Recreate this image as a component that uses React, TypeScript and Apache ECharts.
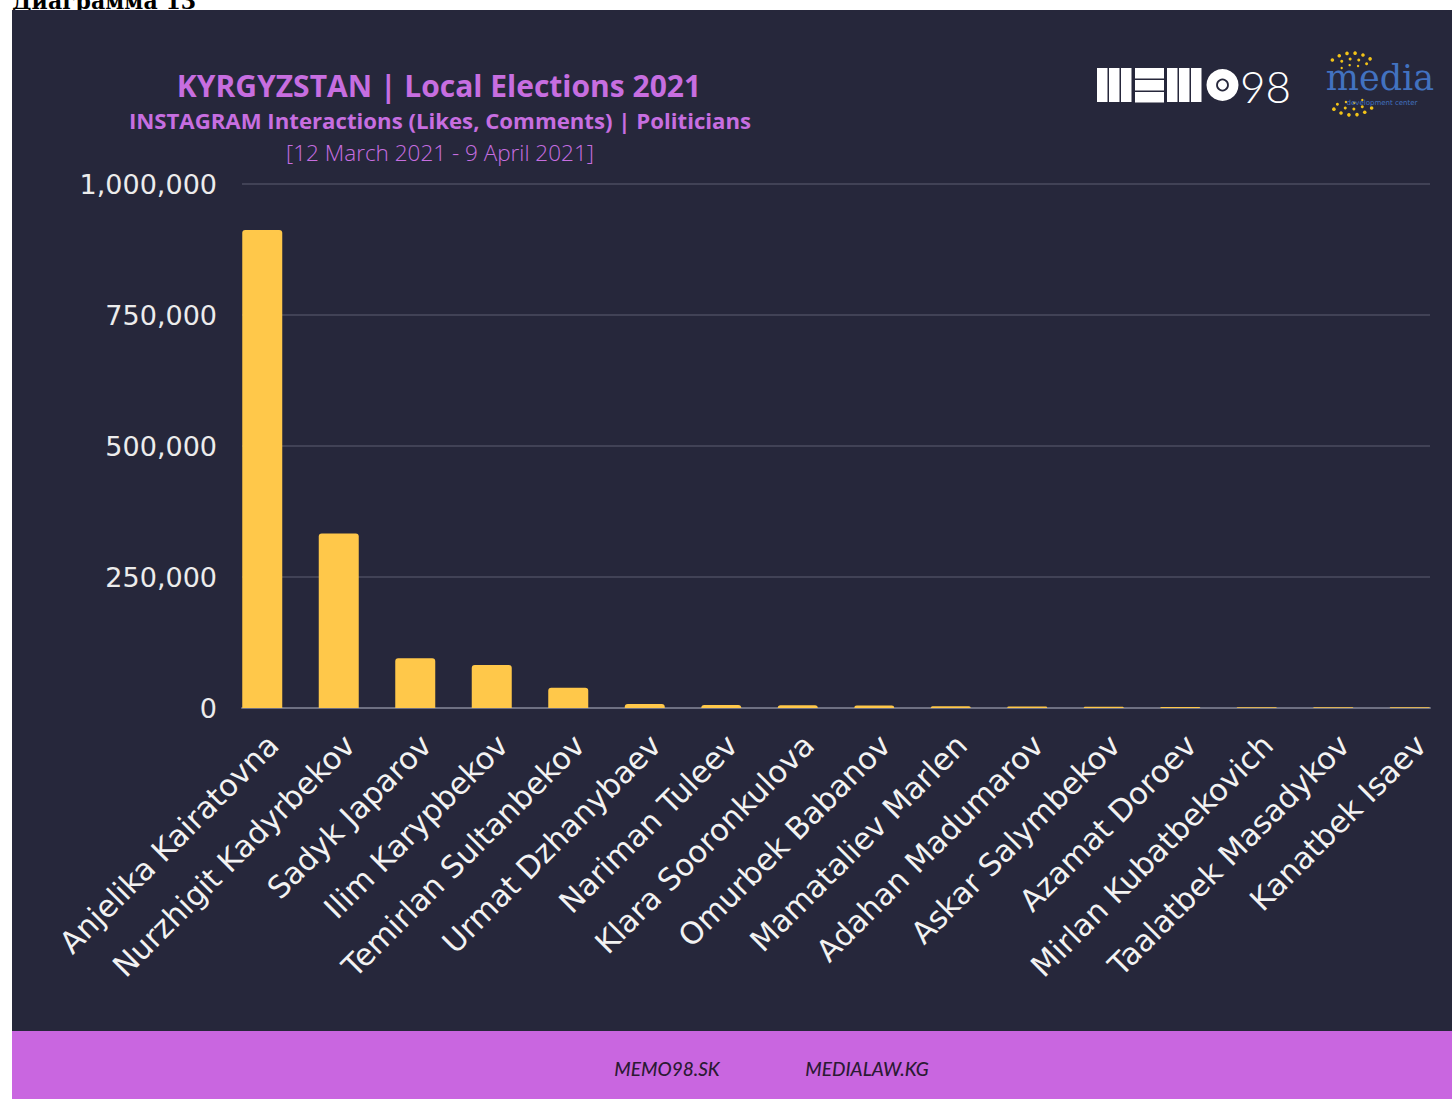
import React, { useEffect, useRef } from "react";
import * as echarts from "echarts";

const politicians: string[] = [
  "Anjelika Kairatovna",
  "Nurzhigit Kadyrbekov",
  "Sadyk Japarov",
  "Ilim Karypbekov",
  "Temirlan Sultanbekov",
  "Urmat Dzhanybaev",
  "Nariman Tuleev",
  "Klara Sooronkulova",
  "Omurbek Babanov",
  "Mamataliev Marlen",
  "Adahan Madumarov",
  "Askar Salymbekov",
  "Azamat Doroev",
  "Mirlan Kubatbekovich",
  "Taalatbek Masadykov",
  "Kanatbek Isaev",
];

const interactions: number[] = [
  912000, 333000, 95000, 82000, 38700, 7600, 5700, 5200, 4600, 3300, 2700,
  2300, 2000, 1600, 1400, 1200,
];

const yTicks: number[] = [0, 250000, 500000, 750000, 1000000];

const titleText = "KYRGYZSTAN | Local Elections 2021";
const subtitleText = "INSTAGRAM Interactions (Likes, Comments) | Politicians";
const dateText = "[12 March 2021 - 9 April 2021]";
const footerLinks: string[] = ["MEMO98.SK", "MEDIALAW.KG"];

const BG = "#26273b";
const PURPLE = "#c966e0";
const TITLE = "#c76ee0";
const BAR = "#ffc84a";

function fmt(v: number): string {
  return v.toLocaleString("en-US");
}

function mediaDots(): any[] {
  const dots: any[] = [];
  const cx = 1352;
  const cy = 84;
  const rings = [
    { r: 31, n: 24, s: 1.8 },
    { r: 25, n: 18, s: 1.5 },
    { r: 19, n: 14, s: 1.2 },
  ];
  rings.forEach((ring) => {
    for (let i = 0; i < ring.n; i++) {
      const a = (i / ring.n) * Math.PI * 2 + 0.1;
      const x = cx + Math.cos(a) * ring.r;
      const y = cy + Math.sin(a) * ring.r;
      if (Math.abs(Math.sin(a)) < 0.72) continue;
      dots.push({
        type: "circle",
        shape: { cx: x, cy: y, r: ring.s },
        style: { fill: "#f2c318" },
        z: 5,
      });
    }
  });
  return dots;
}

export default function App() {
  const ref = useRef<HTMLDivElement>(null);

  useEffect(() => {
    if (!ref.current) return;
    const chart = echarts.init(ref.current, undefined, { renderer: "svg" });

    const memoBars: any[] = [];
    for (let i = 0; i < 3; i++) {
      memoBars.push({ type: "rect", shape: { x: 1097 + i * 12, y: 68, width: 10.5, height: 34 }, style: { fill: "#ffffff" }, z: 5 });
    }
    for (let i = 0; i < 3; i++) {
      memoBars.push({ type: "rect", shape: { x: 1135, y: 68 + i * 12, width: 29, height: 10.5 }, style: { fill: "#ffffff" }, z: 5 });
    }
    for (let i = 0; i < 3; i++) {
      memoBars.push({ type: "rect", shape: { x: 1167 + i * 12, y: 68, width: 10.5, height: 34 }, style: { fill: "#ffffff" }, z: 5 });
    }

    const option: any = {
      animation: false,
      backgroundColor: "#ffffff",
      graphic: {
        z: -10,
        elements: [
          {
            type: "text",
            left: 12,
            top: -10,
            z: 0,
            style: {
              text: "Диаграмма 13",
              font: "bold 22px 'DejaVu Serif'",
              fill: "#000000",
            },
          },
          {
            type: "rect",
            shape: { x: 12, y: 10, width: 1440, height: 1022 },
            style: { fill: BG },
            z: 1,
            silent: true,
          },
          {
            type: "rect",
            shape: { x: 12, y: 1031, width: 1440, height: 68 },
            style: { fill: PURPLE },
            z: 1,
            silent: true,
          },
          {
            type: "text",
            x: 439,
            y: 85,
            z: 5,
            style: {
              text: titleText,
              font: "bold 30px 'Open Sans'",
              fill: TITLE,
              align: "center",
              verticalAlign: "middle",
            },
          },
          {
            type: "text",
            x: 440,
            y: 120,
            z: 5,
            style: {
              text: subtitleText,
              font: "bold 22.2px 'Open Sans'",
              fill: TITLE,
              align: "center",
              verticalAlign: "middle",
            },
          },
          {
            type: "text",
            x: 440,
            y: 152,
            z: 5,
            style: {
              text: dateText,
              font: "300 22.5px 'Open Sans'",
              fill: TITLE,
              align: "center",
              verticalAlign: "middle",
            },
          },
          ...memoBars,
          {
            type: "circle",
            shape: { cx: 1222.5, cy: 85, r: 16 },
            style: { fill: "#ffffff" },
            z: 5,
          },
          {
            type: "circle",
            shape: { cx: 1222.5, cy: 85, r: 5.5 },
            style: { fill: "#ffffff", stroke: BG, lineWidth: 1.8 },
            z: 6,
          },
          {
            type: "text",
            x: 1240,
            y: 86,
            z: 5,
            style: {
              text: "98",
              font: "300 44px Lato",
              fill: "#ffffff",
              align: "left",
              verticalAlign: "middle",
            },
          },
          ...mediaDots(),
          {
            type: "text",
            x: 1380,
            y: 78,
            z: 6,
            style: {
              text: "media",
              font: "35px 'DejaVu Serif'",
              fill: "#4272c0",
              align: "center",
              verticalAlign: "middle",
            },
          },
          {
            type: "text",
            x: 1382,
            y: 103,
            z: 6,
            style: {
              text: "development center",
              font: "7px 'DejaVu Sans'",
              fill: "#4272c0",
              align: "center",
              verticalAlign: "middle",
            },
          },
          {
            type: "text",
            x: 667,
            y: 1068,
            z: 5,
            style: {
              text: footerLinks[0],
              font: "italic 500 19px Lato",
              fill: "#2b1a33",
              align: "center",
              verticalAlign: "middle",
            },
          },
          {
            type: "text",
            x: 867,
            y: 1068,
            z: 5,
            style: {
              text: footerLinks[1],
              font: "italic 500 19px Lato",
              fill: "#2b1a33",
              align: "center",
              verticalAlign: "middle",
            },
          },
        ],
      },
      grid: [
        { left: 242, right: 22, top: 184, bottom: 391, containLabel: false },
        { left: 224, right: 4, top: 184, bottom: 391, containLabel: false },
      ],
      xAxis: [
        {
          type: "category",
          gridIndex: 0,
          data: politicians,
          axisLine: { show: true, lineStyle: { color: "#6e7082", width: 2 } },
          axisTick: { show: false },
          axisLabel: { show: false },
          splitLine: { show: false },
          z: 3,
        },
        {
          type: "category",
          gridIndex: 1,
          data: politicians,
          axisLine: { show: false },
          axisTick: { show: false },
          axisLabel: {
            show: true,
            rotate: 45,
            interval: 0,
            margin: 21,
            verticalAlign: "top",
            color: "#f2f2f2",
            fontFamily: "DejaVu Sans",
            fontSize: 30.5,
          },
          splitLine: { show: false },
          z: 3,
        },
      ],
      yAxis: [
        {
          type: "value",
          gridIndex: 0,
          min: yTicks[0],
          max: yTicks[yTicks.length - 1],
          interval: yTicks[1] - yTicks[0],
          axisLine: { show: false },
          axisTick: { show: false },
          axisLabel: {
            show: true,
            margin: 25,
            color: "#ececec",
            fontFamily: "DejaVu Sans",
            fontSize: 27,
            formatter: (v: number) => fmt(v),
          },
          splitLine: { show: true, lineStyle: { color: "#4b4d60", width: 1.5 } },
          z: 2,
        },
        {
          type: "value",
          gridIndex: 1,
          min: yTicks[0],
          max: yTicks[yTicks.length - 1],
          interval: yTicks[1] - yTicks[0],
          show: false,
          splitLine: { show: false },
        },
      ],
      series: [
        {
          type: "bar",
          xAxisIndex: 1,
          yAxisIndex: 1,
          data: interactions,
          barWidth: 40,
          itemStyle: { color: BAR, borderRadius: [3, 3, 0, 0] },
          z: 4,
        },
      ],
    };

    chart.setOption(option);
    return () => chart.dispose();
  }, []);

  return (
    <div
      ref={ref}
      style={{ position: "absolute", left: 0, top: 0, width: 1452, height: 1099 }}
    />
  );
}
